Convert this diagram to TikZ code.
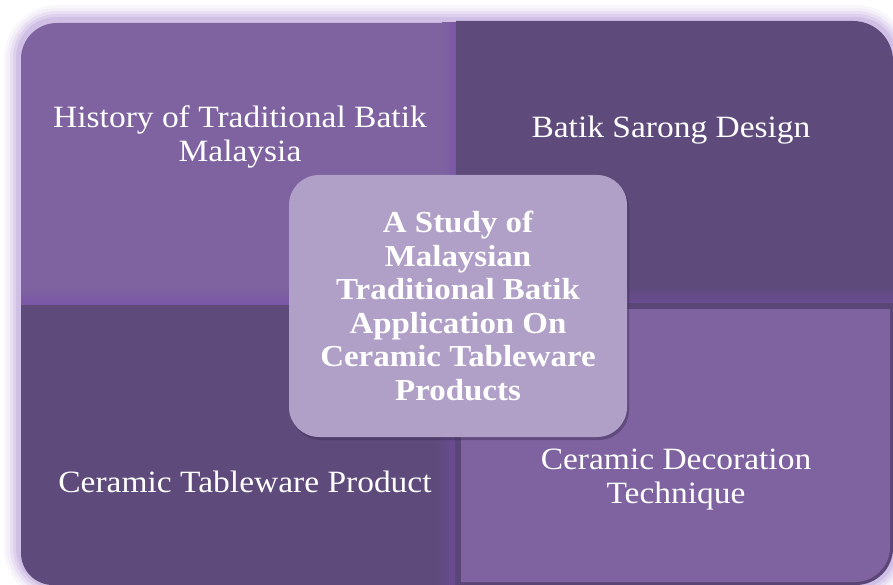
\documentclass[tikz,border=0pt]{standalone}
\usepackage{fontspec}
\setmainfont{Liberation Serif}
\newfontfamily\widefont[FakeStretch=1.08]{Liberation Serif}
\usetikzlibrary{shadows}
\definecolor{qlight}{HTML}{7E63A0}
\definecolor{qdark}{HTML}{5E4A7B}
\definecolor{qaccent}{HTML}{7A57A8}
\definecolor{qaccdark}{HTML}{6A4C92}
\definecolor{seam}{HTML}{5A4676}
\definecolor{core}{HTML}{B09FC6}
\definecolor{glow}{HTML}{C6B0E0}
\definecolor{boxshadow}{HTML}{3E2F55}
\tikzset{
  quadtext/.style={text=white, inner sep=0pt, align=center, font=\widefont\fontsize{31}{34}\selectfont},
  titletext/.style={text=white, inner sep=0pt, align=center, font=\widefont\bfseries\fontsize{30.5}{33.6}\selectfont},
  corebox/.style={fill=core, rounded corners=30pt, minimum width=338pt, minimum height=262pt, inner sep=0pt,
    drop shadow={shadow xshift=2pt, shadow yshift=-3pt, opacity=0.45, fill=boxshadow}},
}
\begin{document}
\begin{tikzpicture}[x=1pt,y=-1pt]
\useasboundingbox (0,0) rectangle (893,585);
\begin{scope}
\clip (0,0) rectangle (893,585);
% outer glow
\foreach \w/\p in {34/10, 28/22, 22/38, 16/58, 10/80}{
  \draw[line width=\w pt, glow!\p!white, rounded corners=36pt] (21,22) rectangle (892,584);
}
% top-left quadrant
\fill[qlight] (21,305) -- (21,59) arc[start angle=180, end angle=90, radius=36pt] -- (456,23) -- (456,305) -- cycle;
\shade[top color=qlight, bottom color=qaccent] (21,288) rectangle (456,305);
\shade[left color=qlight, right color=qaccent] (442,23) rectangle (456,290);
% top-right quadrant
\fill[qdark] (456,21) -- (853,21) arc[start angle=90, end angle=0, radius=40pt] -- (893,303) -- (456,303) -- cycle;
\shade[top color=qdark, bottom color=qaccdark] (456,286) rectangle (893,303);
\fill[seam] (456,303) rectangle (893,309);
% bottom-left quadrant
\fill[qdark] (21,305) -- (21,553) arc[start angle=180, end angle=270, radius=32pt] -- (455,585) -- (455,305) -- cycle;
\shade[left color=qdark, right color=qaccdark] (436,305) rectangle (455,585);
\fill[seam] (455,309) rectangle (461,585);
% bottom-right quadrant
\fill[seam] (461,309) -- (893,309) -- (893,548) arc[start angle=0, end angle=-90, radius=37pt] -- (461,585) -- cycle;
\fill[qlight] (461,309) -- (890,309) -- (890,547) arc[start angle=0, end angle=-90, radius=35pt] -- (461,582) -- cycle;
\end{scope}
% quadrant texts
\node[quadtext] (hist) at (240,137) {History of Traditional Batik\\Malaysia};
\node[quadtext, anchor=base] (sarong) at (671,138) {Batik Sarong Design};
\node[quadtext, anchor=base] (table) at (245,492) {Ceramic Tableware Product};
\node[quadtext] (deco) at (676,480) {Ceramic Decoration\\Technique};
% central box
\node[corebox] (core) at (458,306) {};
\node[titletext] (title) at (458,306) {A Study of\\Malaysian\\Traditional Batik\\Application On\\Ceramic Tableware\\Products};
\end{tikzpicture}
\end{document}
